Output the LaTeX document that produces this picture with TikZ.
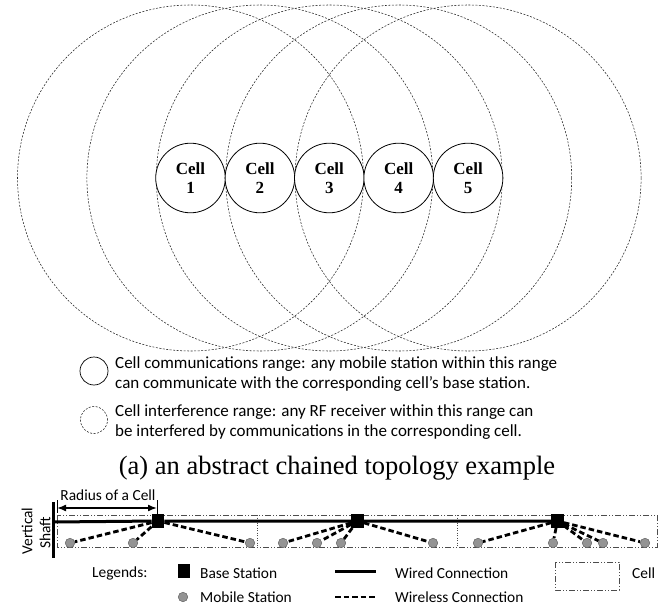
\documentclass[tikz,border=0pt]{standalone}
\usepackage{fontspec}
\setmainfont{Carlito}
\newfontfamily\tms{Liberation Serif}
\usetikzlibrary{arrows.meta}
\begin{document}
\begin{tikzpicture}[x=1pt,y=-1pt,
  interf/.style={draw=black!85,line width=0.55pt,dash pattern=on 2pt off 1.5pt},
  cell/.style={circle,draw,line width=0.8pt,fill=white,minimum size=69.6pt,inner sep=0pt,align=center,
    font=\tms\bfseries\fontsize{17}{19.5}\selectfont},
  legtxt/.style={anchor=west,inner sep=0pt,align=left,font=\fontsize{17}{20}\selectfont},
  smalltxt/.style={inner sep=0pt,font=\fontsize{15.4}{16}\selectfont},
  bsnode/.style={rectangle,fill=black,minimum width=12.5pt,minimum height=13.5pt,inner sep=0pt},
  msnode/.style={circle,fill=black!42,draw=black!62,line width=0.5pt,minimum size=9.5pt,inner sep=0pt},
  wired/.style={line width=3pt},
  wireless/.style={line width=2.8pt,dash pattern=on 5.5pt off 3pt},
  cellbox/.style={draw=black!70,line width=0.8pt,dash pattern=on 6pt off 2pt on 1pt off 2pt on 1pt off 2pt},
  divider/.style={draw=black!70,line width=0.7pt,dash pattern=on 1pt off 1.5pt}]
\useasboundingbox (0,0) rectangle (670,610);

% interference ranges
\foreach \i in {1,...,5}{
  \coordinate (k\i) at ({190.5+69.4*(\i-1)},178);
  \draw[interf] (k\i) circle[radius=173pt];
}
% cells
\foreach \i in {1,...,5}{
  \node[cell] (c\i) at (k\i) {Cell\\\i};
}

% top legend
\node[circle,draw,line width=0.7pt,minimum size=28pt,inner sep=0pt] (lgc) at (94,371) {};
\node[legtxt] (lgct) at (115,374) {Cell communications range: any mobile station within this range\\can communicate with the corresponding cell’s base station.};
\node[circle,interf,minimum size=27pt,inner sep=0pt] (lgi) at (94,420) {};
\node[legtxt] (lgit) at (115,422) {Cell interference range: any RF receiver within this range can\\be interfered by communications in the corresponding cell.};

% caption
\node[inner sep=0pt,font=\tms\fontsize{26.5}{30}\selectfont] (cap) at (337,468) {(a) an abstract chained topology example};

% bottom: shaft and cells
\draw[cellbox] (57,515) rectangle (657,547);
\draw[divider] (257,515) -- (257,547);
\draw[divider] (457,515) -- (457,547);
\draw[line width=3pt] (53,502) -- (53,558);
\node[smalltxt,rotate=90] (vt) at (27,531) {Vertical};
\node[smalltxt,rotate=90] (st) at (45,533) {Shaft};

% radius
\draw[line width=0.9pt] (57,500) -- (57,513);
\draw[line width=0.9pt] (157,500) -- (157,516);
\coordinate (ra) at (57,508);
\coordinate (rb) at (157,508);
\draw[line width=1.6pt,{Latex[length=9pt,width=7pt]}-{Latex[length=9pt,width=7pt]}] (ra) -- (rb);
\node[smalltxt] (rl) at (108,495) {Radius of a Cell};

% base stations
\node[bsnode] (bs1) at (158,521) {};
\node[bsnode] (bs2) at (357.5,521) {};
\node[bsnode] (bs3) at (557.5,521) {};
\coordinate (sh) at (53,522);
\draw[wired] (sh) -- (bs1) -- (bs2) -- (bs3);

% mobile stations
\foreach \n/\x in {a1/70,a2/133,a3/250,b1/283,b2/317,b3/341,b4/433,d1/478,d2/553,d3/587,d4/603,d5/645}{
  \node[msnode] (m\n) at (\x,543) {};
}
\foreach \m in {a1,a2,a3}{\draw[wireless] (bs1) -- (m\m);}
\foreach \m in {b1,b2,b3,b4}{\draw[wireless] (bs2) -- (m\m);}
\foreach \m in {d1,d2,d3,d4,d5}{\draw[wireless] (bs3) -- (m\m);}

% bottom legend
\node[smalltxt,anchor=west] (lg) at (92,573) {Legends:};
\node[bsnode] (lbs) at (184,571) {};
\node[smalltxt,anchor=west] (lbst) at (200,573) {Base Station};
\node[msnode] (lms) at (183,597) {};
\node[smalltxt,anchor=west] (lmst) at (200,597) {Mobile Station};
\coordinate (lwa) at (335,571);
\coordinate (lwb) at (376,571);
\draw[wired] (lwa) -- (lwb);
\node[smalltxt,anchor=west] (lwt) at (395,573) {Wired Connection};
\coordinate (lla) at (335,597);
\coordinate (llb) at (376,597);
\draw[wireless] (lla) -- (llb);
\node[smalltxt,anchor=west] (llt) at (395,597) {Wireless Connection};
\draw[cellbox] (555,562) rectangle (619,590);
\node[smalltxt,anchor=west] (lct) at (632,573) {Cell};
\end{tikzpicture}
\end{document}
